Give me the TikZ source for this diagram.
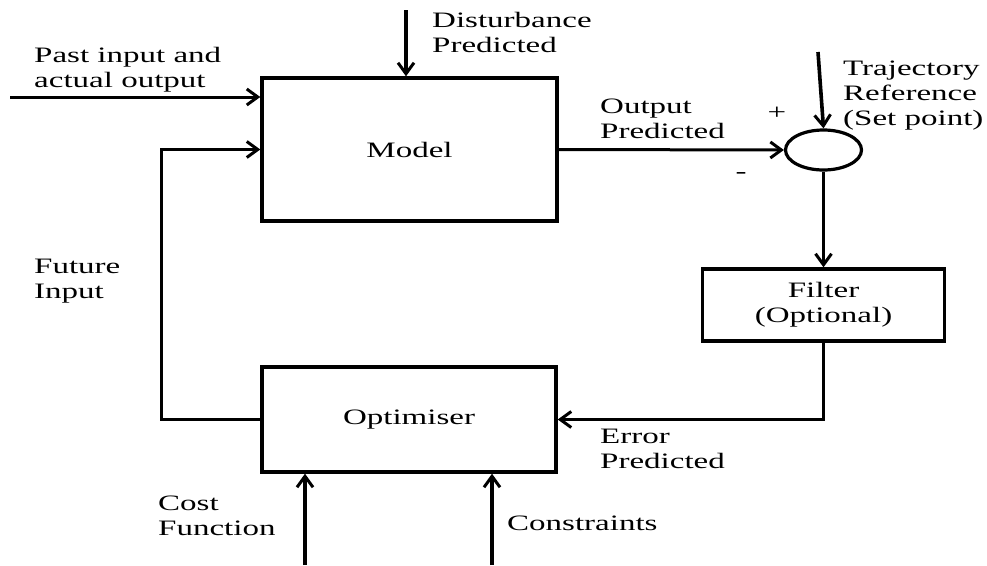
\documentclass[tikz,border=0pt]{standalone}
\usepackage{fontspec}
\setmainfont[FakeStretch=1.5]{Liberation Serif}
\usetikzlibrary{arrows.meta,shapes.geometric}

\tikzset{
  block/.style={draw, line width=3.4pt, rectangle, inner sep=0pt, align=center,
    font=\fontsize{22}{25}\selectfont},
  sumpoint/.style={draw, line width=3.2pt, ellipse, minimum width=76pt, minimum height=40pt, inner sep=0pt},
  flow/.style={line width=3pt, -{Straight Barb[length=11pt,width=16pt,line width=3pt]}},
  heavyflow/.style={flow, line width=3.6pt},
  lbl/.style={inner sep=0pt, align=left, anchor=base west, font=\fontsize{22}{25}\selectfont},
  sign/.style={inner sep=0pt, font=\fontsize{22}{25}\selectfont}
}

\begin{document}
\begin{tikzpicture}[x=1pt,y=-1pt]
  \useasboundingbox (0,0) rectangle (987,565);

  % blocks
  \node[block, minimum width=295pt, minimum height=143pt] (model) at (409.5,149.5) {Model};
  \node[block, minimum width=294pt, minimum height=105pt] (optim) at (409,419.5) {Optimiser};
  \node[block, minimum width=242pt, minimum height=72pt] (filter) at (823.5,305) {Filter\\(Optional)};
  \node[sumpoint] (sum) at (823.5,150) {};

  % free ends of the external signals
  \coordinate (pastin) at (10,97);
  \coordinate (dist) at (406,10);
  \coordinate (traj) at (818,52);
  \coordinate (cost) at (305,565);
  \coordinate (cons) at (492,565);

  % signal paths
  \draw[flow] (pastin) -- (pastin -| model.west);
  \draw[heavyflow] (dist) -- (dist |- model.north);
  \draw[flow] (model.east) -- (sum.west);
  \draw[heavyflow] (traj) -- (sum.north);
  \draw[heavyflow] (sum.south) -- (filter.north);
  \draw[flow] (filter.south) |- (optim.east);
  \draw[flow] (optim.west) -- ++(-99,0) |- (model.west);
  \draw[heavyflow] (cost) -- (cost |- optim.south);
  \draw[heavyflow] (cons) -- (cons |- optim.south);

  % labels (anchored on the baseline of their last line)
  \node[lbl] (lpast) at (34,87) {Past input and\\actual output};
  \node[lbl] (ldist) at (432,52) {Disturbance\\Predicted};
  \node[lbl] (lout) at (600,138) {Output\\Predicted};
  \node[lbl] (ltraj) at (843,125) {Trajectory\\Reference\\(Set point)};
  \node[lbl] (lfut) at (34,298) {Future\\Input};
  \node[lbl] (lerr) at (600,468) {Error\\Predicted};
  \node[lbl] (lcost) at (158,535) {Cost\\Function};
  \node[lbl] (lcons) at (507,530) {Constraints};
  \node[sign] (plus) at (777,113) {+};
  \node[sign] (minus) at (741,175) {-};
\end{tikzpicture}
\end{document}
